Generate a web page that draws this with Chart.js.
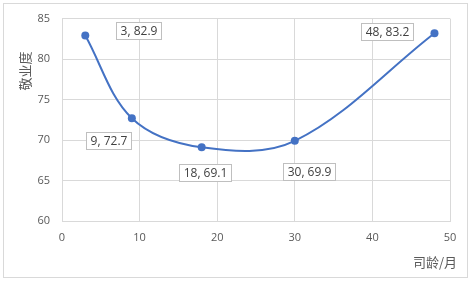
<!DOCTYPE html>
<html>
<head>
<meta charset="utf-8">
<script src="https://cdn.jsdelivr.net/npm/chart.js@4.4.0/dist/chart.umd.min.js"></script>
<style>
  html, body { margin: 0; padding: 0; background: #fff; }
  #wrap { width: 472px; height: 282px; }
</style>
</head>
<body>
<div id="wrap"><canvas id="chart" width="472" height="282"></canvas></div>
<script>
// tenure (months) vs engagement
const tenure = [3, 9, 18, 30, 48];
const engagement = [82.9, 72.7, 69.1, 69.9, 83.2];
const xTicks = [0, 10, 20, 30, 40, 50];
const yTicks = [60, 65, 70, 75, 80, 85];
const xTitle = "司龄/月";
const yTitle = "敬业度";

// where each data label box sits relative to its point (px)
const labelOffsets = [[53, -5], [-23, 22], [3, 25], [14, 31], [-47, -2]];

const textColor = "#595959";
const gridColor = "#d9d9d9";
const lineColor = "#4472c4";
const tickFont = { family: "'Open Sans', 'Liberation Sans', sans-serif", size: 11 };
const cjkFont = "13px 'Noto Sans CJK SC', sans-serif";

const frame = {
    id: "frame",
    beforeDraw(chart) {
        const c = chart.ctx;
        c.save();
        c.fillStyle = "#fff";
        c.fillRect(0, 0, chart.width, chart.height);
        c.strokeStyle = "#d9d9d9";
        c.lineWidth = 1;
        c.strokeRect(3.5, 3.5, 464, 274);
        c.restore();
    },
    afterDraw(chart) {
        const c = chart.ctx;
        c.save();
        c.fillStyle = textColor;
        c.font = cjkFont;
        c.textAlign = "right";
        c.textBaseline = "middle";
        c.fillText(xTitle, 457, 262);
        c.translate(25, 71);
        c.rotate(-Math.PI / 2);
        c.textAlign = "center";
        c.fillText(yTitle, 0, 0);
        c.restore();
    }
};

const dataLabels = {
    id: "dataLabels",
    afterDatasetsDraw(chart) {
        const c = chart.ctx;
        const meta = chart.getDatasetMeta(0);
        c.save();
        c.font = "12px 'Open Sans', 'Liberation Sans', sans-serif";
        c.textAlign = "center";
        c.textBaseline = "middle";
        meta.data.forEach((pt, i) => {
            const txt = tenure[i] + ", " + engagement[i];
            const w = Math.round(c.measureText(txt).width + 8);
            const h = 17;
            const cx = pt.x + labelOffsets[i][0];
            const cy = pt.y + labelOffsets[i][1];
            const x0 = Math.round(cx - w / 2) + 0.5;
            const y0 = Math.round(cy - h / 2) + 0.5;
            c.fillStyle = "#fff";
            c.fillRect(x0, y0, w, h);
            c.strokeStyle = "#bfbfbf";
            c.lineWidth = 1;
            c.strokeRect(x0, y0, w, h);
            c.fillStyle = "#404040";
            c.fillText(txt, x0 + w / 2, y0 + h / 2 + 0.5);
        });
        c.restore();
    }
};

new Chart(document.getElementById("chart"), {
    type: "scatter",
    data: {
        datasets: [{
            data: tenure.map((t, i) => ({ x: t, y: engagement[i] })),
            showLine: true,
            tension: 0.35,
            borderColor: lineColor,
            backgroundColor: lineColor,
            borderWidth: 2,
            pointRadius: 4,
            pointBorderWidth: 0
        }]
    },
    options: {
        responsive: false,
        animation: false,
        layout: { padding: { top: 16, right: 22, left: 0, bottom: 0 } },
        plugins: { legend: { display: false }, tooltip: { enabled: false } },
        scales: {
            x: {
                type: "linear",
                min: 0, max: 50,
                afterBuildTicks: s => { s.ticks = xTicks.map(v => ({ value: v })); },
                afterFit: s => { s.height = 61; },
                grid: { color: gridColor, drawTicks: false },
                border: { color: gridColor },
                ticks: { color: textColor, font: tickFont, padding: 10, maxRotation: 0 }
            },
            y: {
                min: 60, max: 85,
                afterBuildTicks: s => { s.ticks = yTicks.map(v => ({ value: v })); },
                afterFit: s => { s.width = 62; },
                grid: { color: gridColor, drawTicks: false },
                border: { display: false },
                ticks: { color: textColor, font: tickFont, padding: 12 }
            }
        }
    },
    plugins: [frame, dataLabels]
});
</script>
</body>
</html>
